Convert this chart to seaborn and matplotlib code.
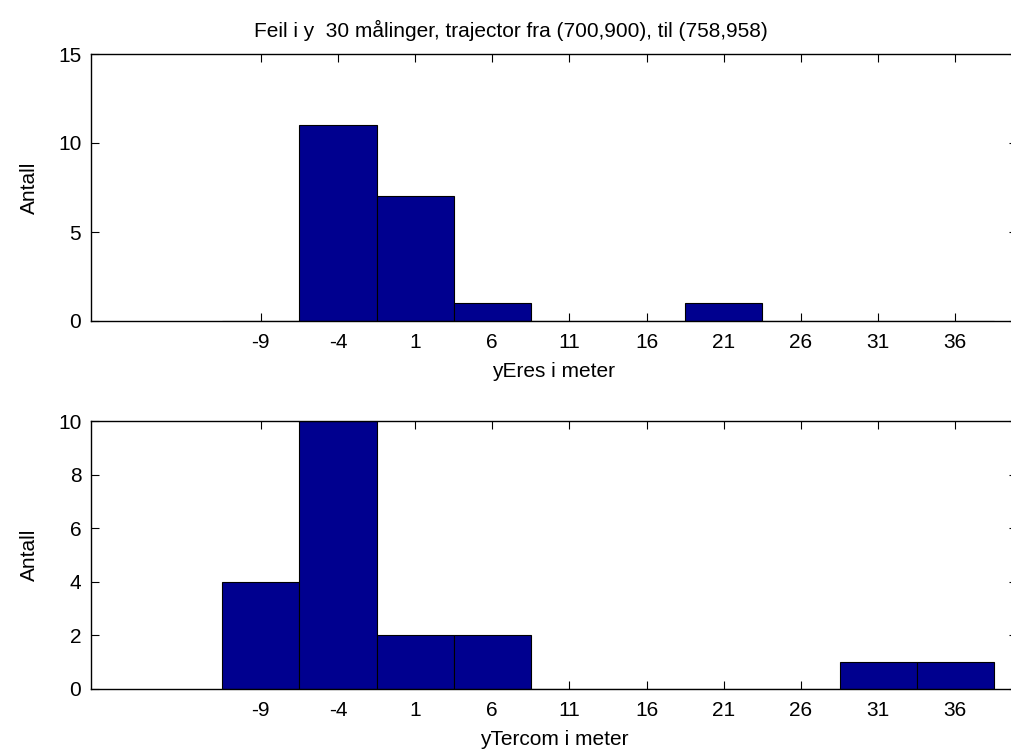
import numpy as np
import pandas as pd
import matplotlib
matplotlib.use("Agg")
import matplotlib.pyplot as plt
import seaborn as sns

# Histogram bin centres (metres) and counts per bin
bin_centers = [-9, -4, 1, 6, 11, 16, 21, 26, 31, 36]
yeres_counts = [0, 11, 7, 1, 0, 0, 1, 0, 0, 0]
ytercom_counts = [4, 10, 2, 2, 0, 0, 0, 0, 1, 1]
tick_labels = ["-9", "-4", "1", "6", "11", "16", "21", "26", "31", "36"]

title_text = "Feil i y  30 målinger, trajector fra (700,900), til (758,958)"
ylabel_text = "Antall"
xlabels = ["yEres i meter", "yTercom i meter"]

sns.set_style("ticks")
plt.rcParams["font.family"] = ["Liberation Sans", "DejaVu Sans"]
plt.rcParams["font.size"] = 15
plt.rcParams["text.color"] = "black"
plt.rcParams["axes.labelcolor"] = "black"
plt.rcParams["xtick.color"] = "black"
plt.rcParams["ytick.color"] = "black"

W, H = 1012, 754
fig = plt.figure(figsize=(W / 100, H / 100), dpi=100)

left_px, right_px = 91, 1017
panels = [
    (54, 321, yeres_counts, (0, 15), [0, 5, 10, 15], xlabels[0]),
    (421, 689, ytercom_counts, (0, 10), [0, 2, 4, 6, 8, 10], xlabels[1]),
]

bar_color = "#00008F"
width = 5
edges_lo = bin_centers[0] - width / 2
edges_hi = bin_centers[-1] + width / 2

axes = []
for top_px, bot_px, counts, ylim, yticks, xlab in panels:
    ax = fig.add_axes([left_px / W, 1 - bot_px / H,
                       (right_px - left_px) / W, (bot_px - top_px) / H])
    df = pd.DataFrame({"center": bin_centers, "count": counts})
    sns.histplot(data=df, x="center", weights="count",
                 binwidth=width, binrange=(edges_lo, edges_hi),
                 color=bar_color, alpha=1, edgecolor="black",
                 linewidth=0.8, ax=ax)
    ax.set_xlim(-20, 40)
    ax.set_ylim(*ylim)
    ax.set_yticks(yticks)
    ax.set_xticks(bin_centers)
    ax.set_xticklabels(tick_labels)
    ax.tick_params(direction="in", length=6, width=0.8, top=True, right=True,
                   labelsize=15, colors="black")
    ax.tick_params(axis="x", pad=9)
    ax.tick_params(axis="y", pad=7)
    ax.set_xlabel(xlab, fontsize=15, labelpad=7, color="black")
    ax.set_ylabel(ylabel_text, fontsize=15, labelpad=14, color="black")
    for s in ax.spines.values():
        s.set_visible(True)
        s.set_linewidth(1.0)
        s.set_color("black")
    axes.append(ax)

axes[0].set_title(title_text, fontsize=15, x=(511 - left_px) / (right_px - left_px),
                  pad=12, color="black")

fig.savefig("out.png", dpi=100, facecolor="white")
